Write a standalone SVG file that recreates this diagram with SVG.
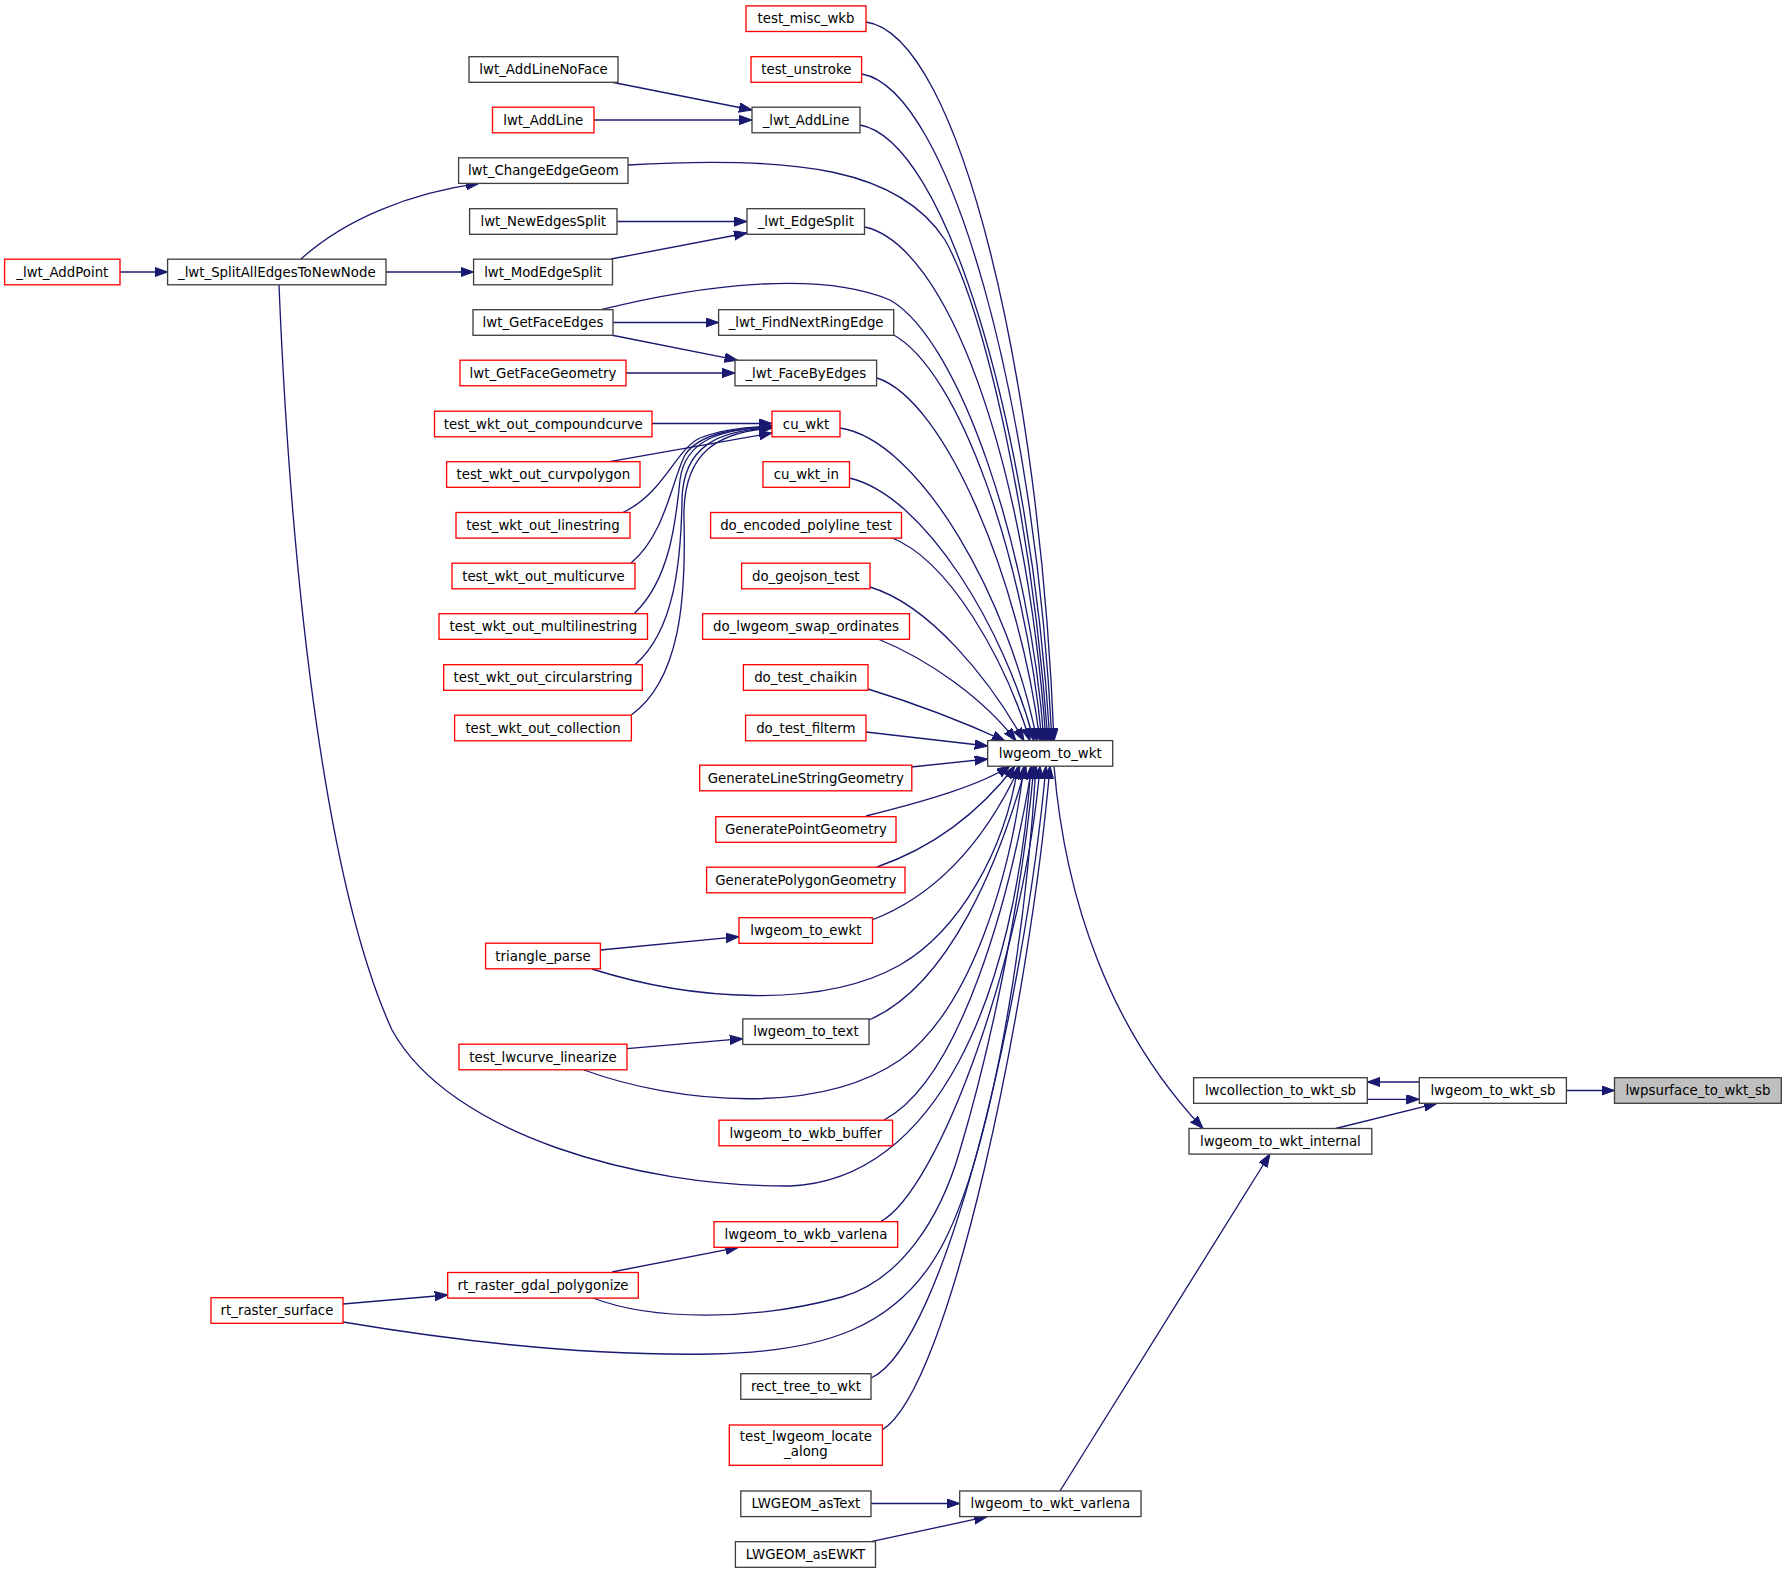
<svg xmlns="http://www.w3.org/2000/svg" width="1787" height="1573" viewBox="0 0 1787 1573">
<style>
.n rect{fill:#fff;stroke:#404040;stroke-width:1.33}
.n.r rect{stroke:#ff0000}
.n.g rect{fill:#bfbfbf}
text{font-family:"DejaVu Sans",sans-serif;font-size:13.33px;text-anchor:middle;fill:#000}
#edges path{fill:none;stroke:#191970;stroke-width:1.33;marker-end:url(#a)}
</style>
<defs>
<marker id="a" markerUnits="userSpaceOnUse" markerWidth="14" markerHeight="10" refX="13" refY="4.7" orient="auto">
<path d="M0,0 L13,4.7 L0,9.4 z" fill="#191970" stroke="#191970" stroke-width="1"/>
</marker>
</defs>
<rect width="1787" height="1573" fill="#fff"/>
<g id="edges">
<path d="M120,272 L167.6,272"/>
<path d="M301,259 C345,219 410,193 479,183.4"/>
<path d="M386,272 L473.6,272"/>
<path d="M279,285 C292,600 328,890 392,1030 C450,1135 640,1187 790,1186 C935,1180 1015,1000 1031,766"/>
<path d="M611,82 L752,110"/>
<path d="M594,120 L752,120"/>
<path d="M628,165 C800,155 900,170 945,240 C985,310 1032,520 1048,741"/>
<path d="M617,221.5 L747,221.5"/>
<path d="M611,259 L747,233"/>
<path d="M601,309.7 C700,285 820,270 890,300 C960,340 1030,550 1044,741"/>
<path d="M613,322.5 L718.6,322.5"/>
<path d="M611,335 L737.5,360.2"/>
<path d="M626,373 L735,373"/>
<path d="M652,423.5 L772,423.5"/>
<path d="M609.6,461.7 L772,433"/>
<path d="M623,512.5 C665,492 675,450 700,438 C720,430 745,427 772,426"/>
<path d="M631,563 C665,535 672,480 685,455 C700,432 740,428 772,427"/>
<path d="M634,613.7 C670,580 676,520 680,480 C685,440 720,429 772,427"/>
<path d="M635,664.7 C675,630 681,560 682,500 C683,445 720,430 772,428"/>
<path d="M631,715.2 C680,680 686,600 684,520 C682,450 720,432 772,428"/>
<path d="M866,22 C960,35 1040,380 1054,741"/>
<path d="M862,74 C950,90 1035,400 1052,741"/>
<path d="M860,125 C945,140 1030,420 1050,741"/>
<path d="M865,227 C945,245 1025,450 1046,741"/>
<path d="M892,334 C960,370 1025,560 1042,741"/>
<path d="M877,378 C945,400 1020,580 1040,741"/>
<path d="M840,428 C920,440 1010,600 1037,741"/>
<path d="M849,478 C925,495 1005,630 1034,741"/>
<path d="M890,537 C950,560 1005,660 1030,741"/>
<path d="M870,587 C930,605 990,680 1024,741"/>
<path d="M878,639 C930,660 985,700 1016,741"/>
<path d="M868,689 C920,705 970,725 1005,741"/>
<path d="M866,732 L987.7,746"/>
<path d="M911,767 L987.7,759"/>
<path d="M866,816 C930,800 980,785 1010,766"/>
<path d="M877,867 C940,845 985,805 1015,766"/>
<path d="M872,920 C950,890 995,820 1020,766"/>
<path d="M869,1020 C950,985 1000,860 1026,766"/>
<path d="M884,1120 C960,1080 1010,900 1032,766"/>
<path d="M880,1222 C940,1190 1025,950 1040,766"/>
<path d="M871,1378 C945,1345 1025,1000 1046,766"/>
<path d="M882,1430 C950,1390 1030,1000 1050,766"/>
<path d="M600.4,950 L739,936.7"/>
<path d="M592,969 C690,1000 820,1010 900,965 C960,930 1005,850 1018,766"/>
<path d="M627,1048.7 L742.8,1038.7"/>
<path d="M584,1070 C680,1105 820,1115 900,1060 C970,1010 1010,880 1024,766"/>
<path d="M343,1304 L447.7,1295"/>
<path d="M343,1322 C480,1345 600,1356 712,1354 C820,1352 900,1330 945,1240 C990,1150 1025,950 1036,766"/>
<path d="M612,1272 L738.5,1247.3"/>
<path d="M593,1298 C650,1320 750,1322 842,1297 C900,1280 940,1220 960,1150 C990,1050 1022,900 1034,766"/>
<path d="M871,1503.5 L959.7,1503.5"/>
<path d="M871,1541.7 L987,1516.7"/>
<path d="M1054,766 C1065,900 1110,1030 1203,1128.5"/>
<path d="M1060,1491 L1270,1154"/>
<path d="M1335.6,1128.5 L1437,1103.3"/>
<path d="M1419.3,1082 L1367.3,1082"/>
<path d="M1367.3,1099.3 L1419.3,1099.3"/>
<path d="M1566.4,1090.5 L1614.5,1090.5"/>
</g>
<g id="test_misc_wkb" class="n r"><rect x="746" y="5.9" width="120" height="25.6"/><text x="806" y="23.3">test_misc_wkb</text></g>
<g id="test_unstroke" class="n r"><rect x="751" y="56.7" width="110.6" height="25.6"/><text x="806.3" y="74.1">test_unstroke</text></g>
<g id="lwt_AddLineNoFace" class="n"><rect x="469" y="56.7" width="149" height="25.6"/><text x="543.5" y="74.1">lwt_AddLineNoFace</text></g>
<g id="lwt_AddLine" class="n r"><rect x="492.5" y="107.2" width="101.5" height="25.6"/><text x="543.3" y="124.6">lwt_AddLine</text></g>
<g id="_lwt_AddLine" class="n"><rect x="752" y="107.2" width="108" height="25.6"/><text x="806" y="124.6">_lwt_AddLine</text></g>
<g id="lwt_ChangeEdgeGeom" class="n"><rect x="458.6" y="157.8" width="169.4" height="25.6"/><text x="543.3" y="175.2">lwt_ChangeEdgeGeom</text></g>
<g id="lwt_NewEdgesSplit" class="n"><rect x="469.6" y="208.7" width="147.4" height="25.6"/><text x="543.3" y="226.1">lwt_NewEdgesSplit</text></g>
<g id="_lwt_EdgeSplit" class="n"><rect x="747" y="208.7" width="117.5" height="25.6"/><text x="805.8" y="226.1">_lwt_EdgeSplit</text></g>
<g id="_lwt_AddPoint" class="n r"><rect x="4.6" y="259.2" width="115.4" height="25.6"/><text x="62.3" y="276.6">_lwt_AddPoint</text></g>
<g id="_lwt_SplitAllEdgesToNewNode" class="n"><rect x="167.6" y="259.2" width="218.4" height="25.6"/><text x="276.8" y="276.6">_lwt_SplitAllEdgesToNewNode</text></g>
<g id="lwt_ModEdgeSplit" class="n"><rect x="473.6" y="259.2" width="138.9" height="25.6"/><text x="543" y="276.6">lwt_ModEdgeSplit</text></g>
<g id="lwt_GetFaceEdges" class="n"><rect x="473" y="309.7" width="140" height="25.6"/><text x="543" y="327.1">lwt_GetFaceEdges</text></g>
<g id="_lwt_FindNextRingEdge" class="n"><rect x="718.6" y="309.7" width="175.1" height="25.6"/><text x="806.1" y="327.1">_lwt_FindNextRingEdge</text></g>
<g id="lwt_GetFaceGeometry" class="n r"><rect x="460" y="360.2" width="166" height="25.6"/><text x="543" y="377.6">lwt_GetFaceGeometry</text></g>
<g id="_lwt_FaceByEdges" class="n"><rect x="735" y="360.2" width="141.6" height="25.6"/><text x="805.8" y="377.6">_lwt_FaceByEdges</text></g>
<g id="test_wkt_out_compoundcurve" class="n r"><rect x="434.5" y="411.2" width="217.5" height="25.6"/><text x="543.3" y="428.6">test_wkt_out_compoundcurve</text></g>
<g id="cu_wkt" class="n r"><rect x="772" y="411.2" width="68" height="25.6"/><text x="806" y="428.6">cu_wkt</text></g>
<g id="test_wkt_out_curvpolygon" class="n r"><rect x="446.6" y="461.7" width="193.4" height="25.6"/><text x="543.3" y="479.1">test_wkt_out_curvpolygon</text></g>
<g id="cu_wkt_in" class="n r"><rect x="763" y="461.7" width="86.5" height="25.6"/><text x="806.3" y="479.1">cu_wkt_in</text></g>
<g id="test_wkt_out_linestring" class="n r"><rect x="456" y="512.5" width="174" height="25.6"/><text x="543" y="529.9">test_wkt_out_linestring</text></g>
<g id="do_encoded_polyline_test" class="n r"><rect x="710.6" y="512.5" width="190.9" height="25.6"/><text x="806" y="529.9">do_encoded_polyline_test</text></g>
<g id="test_wkt_out_multicurve" class="n r"><rect x="452" y="563.2" width="183" height="25.6"/><text x="543.5" y="580.6">test_wkt_out_multicurve</text></g>
<g id="do_geojson_test" class="n r"><rect x="741.6" y="563.2" width="128.4" height="25.6"/><text x="805.8" y="580.6">do_geojson_test</text></g>
<g id="test_wkt_out_multilinestring" class="n r"><rect x="439" y="613.7" width="208.5" height="25.6"/><text x="543.3" y="631.1">test_wkt_out_multilinestring</text></g>
<g id="do_lwgeom_swap_ordinates" class="n r"><rect x="702.6" y="613.7" width="206.9" height="25.6"/><text x="806" y="631.1">do_lwgeom_swap_ordinates</text></g>
<g id="test_wkt_out_circularstring" class="n r"><rect x="443.7" y="664.7" width="198.6" height="25.6"/><text x="543" y="682.1">test_wkt_out_circularstring</text></g>
<g id="do_test_chaikin" class="n r"><rect x="743.4" y="664.7" width="124.6" height="25.6"/><text x="805.7" y="682.1">do_test_chaikin</text></g>
<g id="test_wkt_out_collection" class="n r"><rect x="454.6" y="715.2" width="176.8" height="25.6"/><text x="543" y="732.6">test_wkt_out_collection</text></g>
<g id="do_test_filterm" class="n r"><rect x="745.6" y="715.2" width="120.4" height="25.6"/><text x="805.8" y="732.6">do_test_filterm</text></g>
<g id="lwgeom_to_wkt" class="n"><rect x="987.7" y="740.6" width="125" height="25.6"/><text x="1050.2" y="758">lwgeom_to_wkt</text></g>
<g id="GenerateLineStringGeometry" class="n r"><rect x="699.7" y="765.2" width="212.1" height="25.6"/><text x="805.8" y="782.6">GenerateLineStringGeometry</text></g>
<g id="GeneratePointGeometry" class="n r"><rect x="715.8" y="816.7" width="180.2" height="25.6"/><text x="805.9" y="834.1">GeneratePointGeometry</text></g>
<g id="GeneratePolygonGeometry" class="n r"><rect x="706.6" y="867.2" width="198.4" height="25.6"/><text x="805.8" y="884.6">GeneratePolygonGeometry</text></g>
<g id="lwgeom_to_ewkt" class="n r"><rect x="739" y="917.7" width="133.5" height="25.6"/><text x="805.8" y="935.1">lwgeom_to_ewkt</text></g>
<g id="triangle_parse" class="n r"><rect x="485.6" y="943.2" width="114.8" height="25.6"/><text x="543" y="960.6">triangle_parse</text></g>
<g id="lwgeom_to_text" class="n"><rect x="742.8" y="1018.9" width="126.2" height="25.6"/><text x="805.9" y="1036.3">lwgeom_to_text</text></g>
<g id="test_lwcurve_linearize" class="n r"><rect x="459" y="1044.2" width="168" height="25.6"/><text x="543" y="1061.6">test_lwcurve_linearize</text></g>
<g id="lwcollection_to_wkt_sb" class="n"><rect x="1193.6" y="1077.7" width="173.7" height="25.6"/><text x="1280.5" y="1095.1">lwcollection_to_wkt_sb</text></g>
<g id="lwgeom_to_wkt_sb" class="n"><rect x="1419.3" y="1077.7" width="147.1" height="25.6"/><text x="1492.9" y="1095.1">lwgeom_to_wkt_sb</text></g>
<g id="lwpsurface_to_wkt_sb" class="n g"><rect x="1614.5" y="1077.7" width="166.8" height="25.6"/><text x="1697.9" y="1095.1">lwpsurface_to_wkt_sb</text></g>
<g id="lwgeom_to_wkb_buffer" class="n r"><rect x="719" y="1120.2" width="173.6" height="25.6"/><text x="805.8" y="1137.6">lwgeom_to_wkb_buffer</text></g>
<g id="lwgeom_to_wkt_internal" class="n"><rect x="1189" y="1128.5" width="182.8" height="25.6"/><text x="1280.4" y="1145.9">lwgeom_to_wkt_internal</text></g>
<g id="lwgeom_to_wkb_varlena" class="n r"><rect x="714" y="1221.7" width="183.7" height="25.6"/><text x="805.9" y="1239.1">lwgeom_to_wkb_varlena</text></g>
<g id="rt_raster_gdal_polygonize" class="n r"><rect x="447.7" y="1272.5" width="190.6" height="25.6"/><text x="543" y="1289.9">rt_raster_gdal_polygonize</text></g>
<g id="rt_raster_surface" class="n r"><rect x="211" y="1297.7" width="132" height="25.6"/><text x="277" y="1315.1">rt_raster_surface</text></g>
<g id="rect_tree_to_wkt" class="n"><rect x="740.8" y="1373.7" width="130.2" height="25.6"/><text x="805.9" y="1391.1">rect_tree_to_wkt</text></g>
<g id="test_lwgeom_locate_along" class="n r"><rect x="729.3" y="1425" width="153.1" height="40.3"/><text x="805.9" y="1441.3">test_lwgeom_locate</text><text x="805.9" y="1456.3">_along</text></g>
<g id="LWGEOM_asText" class="n"><rect x="740.8" y="1491" width="130.2" height="25.6"/><text x="805.9" y="1508.4">LWGEOM_asText</text></g>
<g id="lwgeom_to_wkt_varlena" class="n"><rect x="959.7" y="1491" width="181.3" height="25.6"/><text x="1050.4" y="1508.4">lwgeom_to_wkt_varlena</text></g>
<g id="LWGEOM_asEWKT" class="n"><rect x="735.4" y="1541.7" width="140.1" height="25.6"/><text x="805.5" y="1559.1">LWGEOM_asEWKT</text></g>
</svg>
